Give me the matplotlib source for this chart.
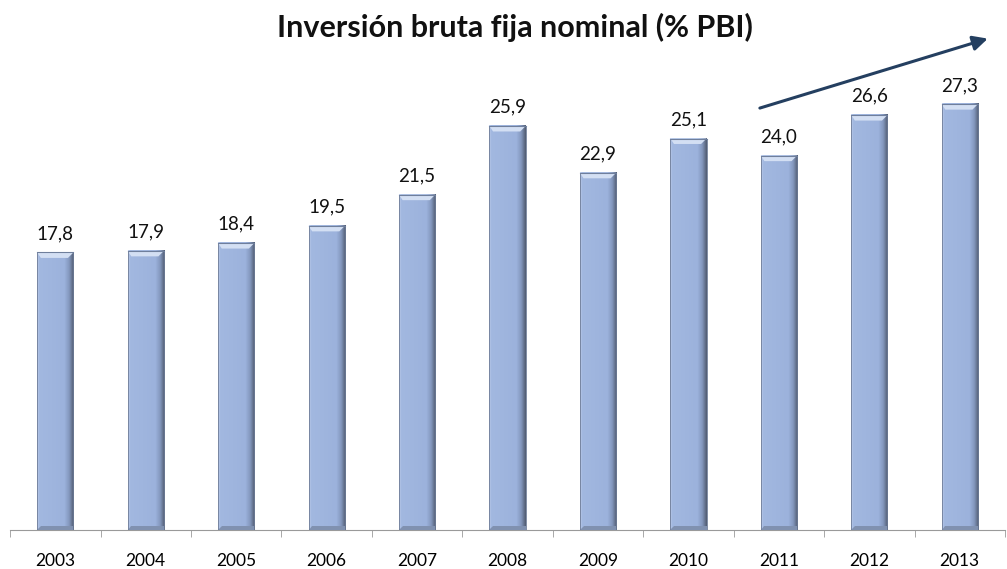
import numpy as np
import matplotlib.pyplot as plt
from matplotlib.colors import LinearSegmentedColormap

years = ['2003', '2004', '2005', '2006', '2007', '2008', '2009', '2010', '2011', '2012', '2013']
values = [17.8, 17.9, 18.4, 19.5, 21.5, 25.9, 22.9, 25.1, 24.0, 26.6, 27.3]
labels = ['17,8', '17,9', '18,4', '19,5', '21,5', '25,9', '22,9', '25,1', '24,0', '26,6', '27,3']

plt.rcParams['font.family'] = ['Lato', 'DejaVu Sans']

fig = plt.figure(figsize=(10.07, 5.69), dpi=100)
ax = fig.add_axes([0.01, 0.068, 0.988, 0.823])

x = np.arange(len(years))
w = 0.40

# horizontal shading of each bar: light left edge, flat body, dark right edge
cmap = LinearSegmentedColormap.from_list('bev', [
    (0.00, '#c0cdea'), (0.05, '#a2b8e0'), (0.75, '#9cb2dc'),
    (0.88, '#8397bd'), (1.00, '#525d72')])
grad = np.linspace(0, 1, 64).reshape(1, -1)

for xi, v in zip(x, values):
    x0, x1 = xi - w / 2, xi + w / 2
    ax.imshow(grad, cmap=cmap, extent=[x0, x1, 0, v], aspect='auto', zorder=2)
    # top bevel highlight
    ax.fill([x0, x1, x1 - 0.06, x0 + 0.04], [v, v, v - 0.35, v - 0.35],
            color='#d3dff3', zorder=3, lw=0)
    ax.plot([x0, x1], [v, v], color='#8095bb', lw=0.8, zorder=3)
    # darker bottom edge
    ax.fill([x0, x1, x1, x0 + 0.04], [0, 0, 0.25, 0.25], color='#8091b0', zorder=3, lw=0)

ax.bar(x, values, width=w, color='none', edgecolor='#6c7b96', lw=0.6, zorder=4)
for xi, v, lab in zip(x, values, labels):
    ax.text(xi, v + 0.85, lab, ha='center', va='baseline', fontsize=13.5, color='#111111')

ax.set_xlim(-0.5, len(years) - 0.5)
ax.set_ylim(0, 30)
ax.set_xticks(x)
ax.set_xticklabels(years, fontsize=12.5)
ax.set_xticks(np.arange(-0.5, len(years)), minor=True)
ax.tick_params(axis='x', which='major', length=0, pad=16)
ax.tick_params(axis='x', which='minor', length=5, color='#9a9a9a', direction='out')
ax.set_yticks([])
for s in ['left', 'right', 'top']:
    ax.spines[s].set_visible(False)
ax.spines['bottom'].set_color('#9a9a9a')

fig.text(0.511, 0.935, 'Inversión bruta fija nominal (% PBI)', ha='center', va='baseline',
         fontsize=22, fontweight='bold', color='#111111')

ax.annotate('', xy=(10.31, 31.5), xytext=(7.79, 27.05), xycoords='data',
            annotation_clip=False,
            arrowprops=dict(arrowstyle='-|>', color='#243f60', lw=2.2,
                            mutation_scale=22, shrinkA=0, shrinkB=0))

fig.savefig('out.png', dpi=100)
